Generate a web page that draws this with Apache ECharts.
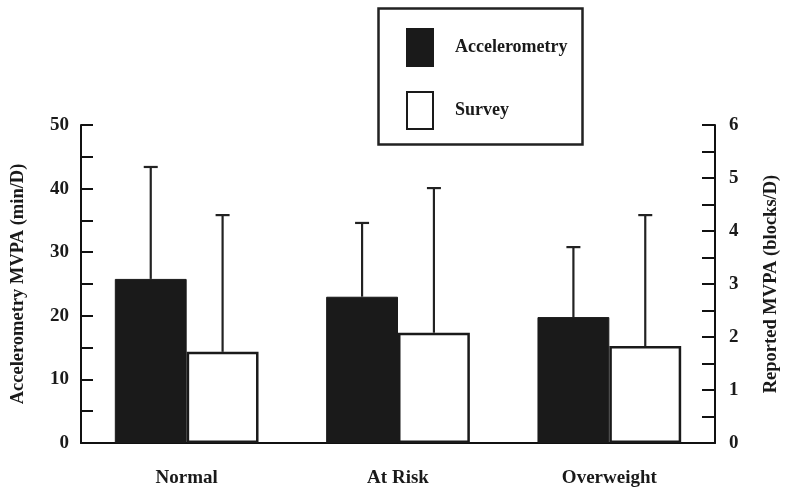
<!DOCTYPE html>
<html>
<head>
<meta charset="utf-8">
<script src="https://cdn.jsdelivr.net/npm/echarts@6/dist/echarts.min.js"></script>
<style>html,body{margin:0;padding:0;background:#fff;overflow:hidden}#c{width:789px;height:494px}</style>
</head>
<body>
<div id="c"></div>
<script>
var categories = ['Normal', 'At Risk', 'Overweight'];
var accelValues = [25.8, 23.0, 19.8];
var accelErrors = [17.6, 11.6, 11.0];
var surveyValues = [1.72, 2.08, 1.83];
var surveyErrors = [2.58, 2.73, 2.47];
var leftTicks = [0, 10, 20, 30, 40, 50];
var rightTicks = [0, 1, 2, 3, 4, 5, 6];

var FONT = "'Liberation Serif', 'Times New Roman', serif";
var TXT = '#1a1a1a';

function errData(vals, errs) {
  return vals.map(function (v, i) { return [i, v, v + errs[i]]; });
}
function errRender(offsetFrac) {
  return function (params, api) {
    var idx = api.value(0);
    var lo = api.coord([idx, api.value(1)]);
    var hi = api.coord([idx, api.value(2)]);
    var band = api.size([1, 0])[0];
    var x = lo[0] + band * offsetFrac;
    var cap = 7;
    var st = { stroke: '#222', lineWidth: 2.2 };
    return {
      type: 'group',
      children: [
        { type: 'line', shape: { x1: x, y1: lo[1], x2: x, y2: hi[1] }, style: st },
        { type: 'line', shape: { x1: x - cap, y1: hi[1], x2: x + cap, y2: hi[1] }, style: st }
      ]
    };
  };
}

var chart = echarts.init(document.getElementById('c'), null, { renderer: 'canvas' });
chart.setOption({
  animation: false,
  backgroundColor: '#fff',
  grid: { left: 81, right: 69, top: 125, bottom: 51, containLabel: false },
  graphic: [{
    type: 'rect', left: 376, top: 6,
    shape: { width: 204, height: 136 },
    style: { fill: 'none', stroke: '#222', lineWidth: 2.5 }
  }],
  legend: {
    data: ['Accelerometry', 'Survey'],
    orient: 'vertical', left: 406, top: 28, padding: 0,
    itemWidth: 26, itemHeight: 37, itemGap: 24, icon: 'rect',
    textStyle: { fontFamily: FONT, fontWeight: 'bold', fontSize: 18, color: TXT, padding: [0, 0, 0, 17] }
  },
  xAxis: {
    type: 'category', data: categories,
    axisLine: { lineStyle: { color: '#111', width: 2 } },
    axisTick: { show: false },
    axisLabel: { margin: 26, fontFamily: FONT, fontWeight: 'bold', fontSize: 19, color: TXT }
  },
  yAxis: [{
    type: 'value', min: 0, max: 50, interval: 5, position: 'left',
    name: 'Accelerometry MVPA (min/D)', nameLocation: 'middle', nameGap: 53,
    nameTextStyle: { fontFamily: FONT, fontWeight: 'bold', fontSize: 18.5, color: TXT },
    axisLine: { show: true, lineStyle: { color: '#111', width: 2 } },
    axisTick: { show: true, inside: true, length: 12, lineStyle: { color: '#111', width: 2 } },
    splitLine: { show: false },
    axisLabel: {
      margin: 12, fontFamily: FONT, fontWeight: 'bold', fontSize: 19, color: TXT,
      formatter: function (v) { return leftTicks.indexOf(v) >= 0 ? String(v) : ''; }
    }
  }, {
    type: 'value', min: 0, max: 6, interval: 0.5, position: 'right',
    name: 'Reported MVPA (blocks/D)', nameLocation: 'middle', nameGap: 47,
    nameTextStyle: { fontFamily: FONT, fontWeight: 'bold', fontSize: 18.5, color: TXT },
    axisLine: { show: true, lineStyle: { color: '#111', width: 2 } },
    axisTick: { show: true, inside: true, length: 13, lineStyle: { color: '#111', width: 2 } },
    splitLine: { show: false },
    axisLabel: {
      margin: 14, fontFamily: FONT, fontWeight: 'bold', fontSize: 19, color: TXT,
      formatter: function (v) { return rightTicks.indexOf(v) >= 0 ? String(v) : ''; }
    }
  }],
  series: [{
    name: 'Accelerometry', type: 'bar', yAxisIndex: 0, data: accelValues,
    barWidth: '34%', barGap: '0%',
    itemStyle: { color: '#1a1a1a', borderColor: '#1a1a1a', borderWidth: 1 }, z: 2
  }, {
    name: 'Survey', type: 'bar', yAxisIndex: 1, data: surveyValues,
    barWidth: '34%', barGap: '0%',
    itemStyle: { color: '#fff', borderColor: '#1a1a1a', borderWidth: 2.5 }, z: 2
  }, {
    name: 'AccelErr', type: 'custom', yAxisIndex: 0,
    data: errData(accelValues, accelErrors),
    renderItem: errRender(-0.17), encode: { x: 0, y: [1, 2] }, z: 3
  }, {
    name: 'SurveyErr', type: 'custom', yAxisIndex: 1,
    data: errData(surveyValues, surveyErrors),
    renderItem: errRender(0.17), encode: { x: 0, y: [1, 2] }, z: 3
  }]
});
</script>
</body>
</html>
